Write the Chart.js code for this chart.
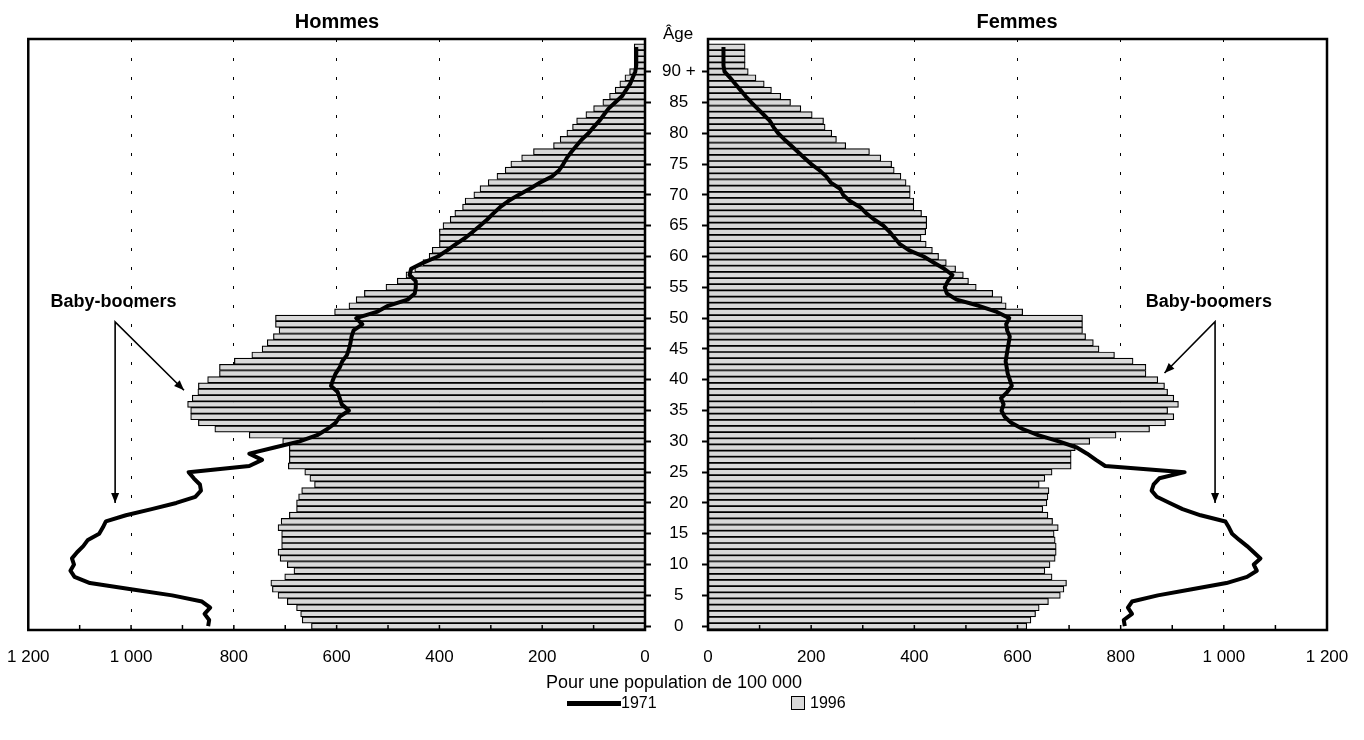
<!DOCTYPE html>
<html lang="fr">
<head>
<meta charset="utf-8">
<title>Pyramide des âges 1971 et 1996</title>
<script src="https://cdn.jsdelivr.net/npm/chart.js@4.4.1/dist/chart.umd.min.js"></script>
<style>
  html, body { margin: 0; padding: 0; background: #fff; }
  body { width: 1364px; height: 740px; position: relative; overflow: hidden;
         font-family: "Liberation Sans", Arial, sans-serif; color: #000; }
  canvas { position: absolute; top: 0; }
  #chart-hommes { left: 0; }
  #chart-femmes { left: 690px; }
  .txt { position: absolute; white-space: nowrap; transform: translate(-50%, -50%); line-height: 1; }
  .titre { font-weight: bold; font-size: 20px; }
  #legende { position: absolute; top: 694px; left: 567px; height: 18px; font-size: 16px; }
  #legende .item { position: absolute; top: 0; display: flex; align-items: center; height: 18px; }
  .trait { width: 54px; height: 5px; background: #000; }
  .carre { width: 12px; height: 12px; background: #d9d9d9; border: 1.5px solid #000; }
</style>
</head>
<body>
<canvas id="chart-hommes" width="700" height="680"></canvas>
<canvas id="chart-femmes" width="674" height="680"></canvas>

<div class="txt titre" style="left:337px; top:21px;">Hommes</div>
<div class="txt titre" style="left:1017px; top:21px;">Femmes</div>
<div class="txt" style="left:678px; top:33px; font-size:17px;">Âge</div>
<div class="txt" style="left:674px; top:682px; font-size:18px;">Pour une population de 100 000</div>
<div id="legende">
  <div class="item" style="left:0;"><span class="trait"></span><span>1971</span></div>
  <div class="item" style="left:224px;"><span class="carre"></span><span style="margin-left:5px;">1996</span></div>
</div>

<script>
// ==== Données ====
const ages = [
   0,  1,  2,  3,  4,  5,  6,  7,  8,  9, 10, 11, 12, 13, 14, 15, 16, 17, 18, 19,
  20, 21, 22, 23, 24, 25, 26, 27, 28, 29, 30, 31, 32, 33, 34, 35, 36, 37, 38, 39,
  40, 41, 42, 43, 44, 45, 46, 47, 48, 49, 50, 51, 52, 53, 54, 55, 56, 57, 58, 59,
  60, 61, 62, 63, 64, 65, 66, 67, 68, 69, 70, 71, 72, 73, 74, 75, 76, 77, 78, 79,
  80, 81, 82, 83, 84, 85, 86, 87, 88, 89, 90, 91, 92, 93, 94
];

// 1996 (barres), âges 0 à 94 (90 + réparti)
const hommes1996 = [
  649, 667, 670, 678, 696, 714, 725, 728, 701, 683, 696, 710, 714, 707, 707, 707, 714, 708, 692, 678,
  678, 674, 668, 643, 652, 662, 694, 692, 692, 692, 705, 770, 837, 869, 884, 884, 890, 881, 870, 869,
  851, 828, 828, 799, 765, 745, 735, 723, 712, 719, 719, 604, 576, 562, 546, 504, 482, 465, 448, 432,
  420, 414, 400, 400, 400, 393, 379, 370, 355, 350, 333, 321, 305, 288, 272, 261, 240, 217, 178, 165,
  152, 141, 133, 115, 100, 82, 69, 58, 49, 39, 30, 21, 21, 21, 21
];
const femmes1996 = [
  618, 626, 635, 642, 660, 683, 690, 695, 667, 653, 663, 673, 675, 675, 673, 671, 679, 668, 659, 649,
  657, 659, 661, 642, 653, 667, 704, 704, 704, 712, 740, 791, 856, 887, 903, 891, 912, 903, 891, 885,
  872, 849, 849, 824, 788, 758, 747, 732, 726, 726, 726, 610, 578, 570, 552, 520, 505, 495, 480, 462,
  447, 435, 423, 413, 422, 424, 424, 414, 399, 399, 392, 392, 384, 374, 361, 356, 335, 313, 267, 249,
  240, 227, 224, 202, 180, 160, 141, 123, 109, 93, 78, 72, 72, 72, 72
];

// 1971 (courbe), âges 0 à 94
const hommes1971 = [
  850, 848, 857, 846, 862, 920, 1000, 1080, 1110, 1118, 1111, 1115, 1105, 1093, 1084, 1062, 1055, 1049, 1010, 960,
  912, 875, 864, 866, 878, 888, 770, 745, 770, 721, 672, 638, 618, 602, 594, 576, 590, 594, 598, 611,
  607, 602, 594, 589, 580, 576, 573, 571, 567, 550, 562, 522, 500, 462, 448, 446, 446, 458, 455, 431,
  403, 385, 368, 350, 335, 321, 307, 295, 282, 266, 246, 224, 204, 181, 167, 159, 152, 143, 133, 123,
  110, 100, 89, 80, 71, 58, 45, 37, 29, 24, 19, 17, 17, 17, 17
];
const femmes1971 = [
  808, 806, 822, 814, 822, 872, 938, 1005, 1045, 1064, 1058, 1071, 1058, 1045, 1030, 1016, 1010, 1003, 955, 920,
  895, 870, 860, 864, 875, 924, 770, 752, 735, 715, 680, 640, 610, 588, 575, 569, 573, 568, 580, 589,
  585, 581, 579, 577, 579, 581, 583, 585, 580, 578, 584, 560, 525, 482, 463, 459, 465, 474, 458, 438,
  418, 390, 372, 362, 352, 340, 322, 307, 295, 275, 262, 256, 238, 229, 216, 200, 187, 174, 161, 148,
  136, 127, 120, 108, 96, 84, 73, 63, 53, 43, 32, 30, 30, 30, 30
];

// ==== Axes ====
const ageTickValues = [0, 5, 10, 15, 20, 25, 30, 35, 40, 45, 50, 55, 60, 65, 70, 75, 80, 85, 90];
const ageTickLabels = ['0', '5', '10', '15', '20', '25', '30', '35', '40', '45', '50', '55', '60', '65', '70', '75', '80', '85', '90 +'];
const xTickValues = [0, 200, 400, 600, 800, 1000, 1200];
const xTickLabels = ['0', '200', '400', '600', '800', '1 000', '1 200'];
const AGE_MIN = -0.62;
const AGE_MAX = 95.3;
const X_MAX = 1200;

// flèches "Baby-boomers" (en unités des axes : valeur, âge)
const annotHommes = { texte: [1034, 52.6], origine: [1031, 49.4], diag: [897, 38.3], bas: [1031, 20] };
const annotFemmes = { texte: [971, 52.6], origine: [983, 49.4], diag: [885, 41.1], bas: [983, 20] };

const FONT = '"Liberation Sans", Arial, sans-serif';
const GRIS = '#d9d9d9';

// ==== Plugins ====
const cadrePlugin = {
  id: 'cadre',
  afterDatasetsDraw(chart) {
    const { ctx, chartArea: a } = chart;
    const sx = chart.scales.x;
    ctx.save();
    ctx.strokeStyle = '#000';
    // petites graduations vers l'intérieur
    ctx.lineWidth = 1.5;
    sx.ticks.forEach(t => {
      const px = sx.getPixelForValue(t.value);
      ctx.beginPath();
      ctx.moveTo(px, a.bottom);
      ctx.lineTo(px, a.bottom - 5);
      ctx.stroke();
    });
    ctx.lineWidth = 2.5;
    ctx.strokeRect(a.left, a.top, a.right - a.left, a.bottom - a.top);
    ctx.restore();
  }
};

function pointe(ctx, x0, y0, x1, y1) {
  const ang = Math.atan2(y1 - y0, x1 - x0);
  const L = 10, W = 4;
  ctx.beginPath();
  ctx.moveTo(x1, y1);
  ctx.lineTo(x1 - L * Math.cos(ang) + W * Math.sin(ang), y1 - L * Math.sin(ang) - W * Math.cos(ang));
  ctx.lineTo(x1 - L * Math.cos(ang) - W * Math.sin(ang), y1 - L * Math.sin(ang) + W * Math.cos(ang));
  ctx.closePath();
  ctx.fill();
}

const flechesPlugin = {
  id: 'fleches',
  afterDatasetsDraw(chart, args, opts) {
    const a = opts.annot;
    if (!a) return;
    const sx = chart.scales.x, sy = chart.scales.y, ctx = chart.ctx;
    const P = p => [sx.getPixelForValue(p[0]), sy.getPixelForValue(p[1])];
    const [tx, ty] = P(a.texte);
    const [ox, oy] = P(a.origine);
    const [dx, dy] = P(a.diag);
    const [bx, by] = P(a.bas);
    ctx.save();
    ctx.fillStyle = '#000';
    ctx.strokeStyle = '#000';
    ctx.font = 'bold 18px ' + FONT;
    ctx.textAlign = 'center';
    ctx.textBaseline = 'middle';
    ctx.fillText('Baby-boomers', tx, ty);
    ctx.lineWidth = 1.6;
    ctx.beginPath();
    ctx.moveTo(dx, dy);
    ctx.lineTo(ox, oy);
    ctx.lineTo(bx, by);
    ctx.stroke();
    pointe(ctx, ox, oy, dx, dy);
    pointe(ctx, ox, oy, bx, by);
    ctx.restore();
  }
};

// ==== Construction ====
function makeChart(canvasId, barres, courbe, cote, annot) {
  const gauche = cote === 'gauche';
  return new Chart(document.getElementById(canvasId), {
    type: 'bar',
    data: {
      datasets: [
        {
          type: 'line',
          label: '1971',
          indexAxis: 'y',
          data: courbe.map((v, i) => ({ x: v, y: ages[i] })),
          borderColor: '#000',
          borderWidth: 4,
          borderJoinStyle: 'round',
          pointRadius: 0,
          tension: 0,
          order: 0
        },
        {
          label: '1996',
          data: barres.map((v, i) => ({ x: v, y: ages[i] })),
          backgroundColor: GRIS,
          borderColor: '#000',
          borderWidth: 1.2,
          barPercentage: 1,
          categoryPercentage: 1,
          order: 1
        }
      ]
    },
    options: {
      indexAxis: 'y',
      responsive: false,
      animation: false,
      events: [],
      layout: { padding: gauche ? { left: 28, right: 0, top: 39, bottom: 10 } : { left: 0, right: 37, top: 39, bottom: 10 } },
      plugins: {
        legend: { display: false },
        tooltip: { enabled: false },
        fleches: { annot: annot }
      },
      scales: {
        x: {
          type: 'linear',
          min: 0,
          max: X_MAX,
          reverse: gauche,
          afterFit: s => { s.height = 40; },
          border: { display: false, dash: [3, 16] },
          grid: {
            drawTicks: true,
            tickLength: 10,
            tickColor: 'rgba(0,0,0,0)',
            lineWidth: 1,
            color: c => (c.tick && xTickValues.includes(c.tick.value) && c.tick.value > 0 && c.tick.value < X_MAX) ? '#000' : 'rgba(0,0,0,0)'
          },
          ticks: {
            stepSize: 100,
            autoSkip: false,
            maxRotation: 0,
            padding: 7,
            color: '#000',
            font: { family: FONT, size: 17 },
            callback: v => {
              const k = xTickValues.indexOf(v);
              return k >= 0 ? xTickLabels[k] : '';
            }
          }
        },
        y: {
          type: 'linear',
          min: AGE_MIN,
          max: AGE_MAX,
          offset: false,
          position: gauche ? 'right' : 'left',
          afterBuildTicks: s => { s.ticks = s.ticks.filter(t => ageTickValues.includes(t.value)); },
          afterFit: s => { s.width = gauche ? 55 : 18; },
          border: { display: false },
          grid: {
            offset: false,
            drawOnChartArea: false,
            drawTicks: true,
            tickLength: 6,
            tickWidth: 2,
            tickColor: '#000'
          },
          ticks: {
            display: gauche,
            stepSize: 5,
            includeBounds: false,
            autoSkip: false,
            crossAlign: 'center',
            padding: 11,
            color: '#000',
            font: { family: FONT, size: 17 },
            callback: v => {
              const k = ageTickValues.indexOf(v);
              return k >= 0 ? ageTickLabels[k] : '';
            }
          }
        }
      }
    },
    plugins: [cadrePlugin, flechesPlugin]
  });
}

makeChart('chart-hommes', hommes1996, hommes1971, 'gauche', annotHommes);
makeChart('chart-femmes', femmes1996, femmes1971, 'droite', annotFemmes);
</script>
</body>
</html>
